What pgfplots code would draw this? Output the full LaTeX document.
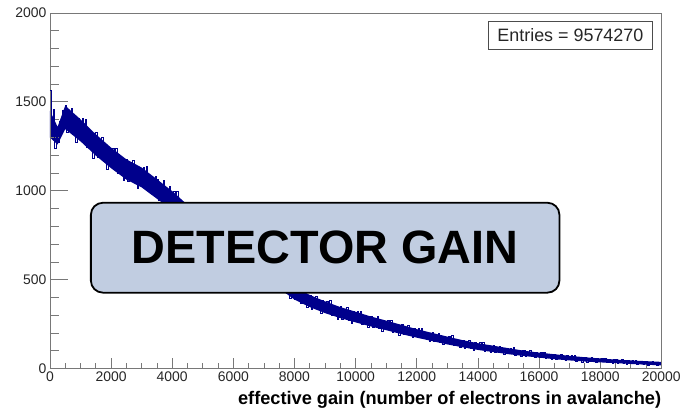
\documentclass[border=0pt]{standalone}
\usepackage{fontspec}
\setmainfont{Liberation Sans}
\usepackage{pgfplots}
\usepackage{pgfplotstable}
\usepgfplotslibrary{fillbetween}
\pgfplotsset{compat=1.18}
\definecolor{histblue}{RGB}{0,0,140}
\definecolor{boxfill}{RGB}{193,205,225}
\definecolor{framegray}{RGB}{120,120,120}

% counts per bin, bin width 50, starting at 0
\pgfplotstableread[row sep=\\]{
y\\
1565\\ 1400\\ 1460\\ 1240\\ 1330\\ 1270\\ 1390\\ 1340\\ 1450\\ 1370\\
1478\\ 1330\\ 1429\\ 1347\\ 1462\\ 1315\\ 1380\\ 1274\\ 1405\\ 1315\\
1302\\ 1408\\ 1311\\ 1402\\ 1243\\ 1333\\ 1252\\ 1295\\ 1183\\ 1297\\
1327\\ 1189\\ 1277\\ 1199\\ 1302\\ 1164\\ 1222\\ 1122\\ 1240\\ 1154\\
1136\\ 1238\\ 1153\\ 1240\\ 1097\\ 1185\\ 1114\\ 1159\\ 1059\\ 1168\\
1176\\ 1052\\ 1138\\ 1070\\ 1170\\ 1046\\ 1104\\ 1015\\ 1129\\ 1054\\
1032\\ 1131\\ 1051\\ 1137\\ 1002\\ 1088\\ 1021\\ 1066\\ 972\\ 1078\\
1062\\ 943\\ 1027\\ 962\\ 1060\\ 940\\ 998\\ 912\\ 1024\\ 952\\
902\\ 994\\ 916\\ 995\\ 863\\ 942\\ 877\\ 916\\ 824\\ 923\\
933\\ 817\\ 895\\ 830\\ 920\\ 804\\ 856\\ 772\\ 875\\ 804\\
780\\ 867\\ 793\\ 867\\ 743\\ 818\\ 756\\ 794\\ 707\\ 800\\
804\\ 698\\ 769\\ 709\\ 792\\ 686\\ 733\\ 656\\ 750\\ 685\\
648\\ 726\\ 659\\ 726\\ 613\\ 680\\ 624\\ 657\\ 578\\ 662\\
670\\ 572\\ 637\\ 582\\ 657\\ 559\\ 602\\ 531\\ 617\\ 557\\
521\\ 592\\ 530\\ 590\\ 487\\ 548\\ 496\\ 525\\ 453\\ 529\\
518\\ 432\\ 489\\ 441\\ 508\\ 421\\ 460\\ 397\\ 474\\ 421\\
390\\ 455\\ 402\\ 458\\ 367\\ 423\\ 379\\ 407\\ 344\\ 414\\
412\\ 334\\ 389\\ 345\\ 408\\ 330\\ 366\\ 310\\ 382\\ 334\\
320\\ 380\\ 330\\ 381\\ 298\\ 349\\ 308\\ 334\\ 276\\ 340\\
349\\ 278\\ 327\\ 287\\ 344\\ 273\\ 305\\ 254\\ 319\\ 275\\
268\\ 322\\ 277\\ 324\\ 249\\ 296\\ 259\\ 282\\ 230\\ 288\\
295\\ 231\\ 274\\ 240\\ 291\\ 227\\ 257\\ 211\\ 269\\ 231\\
224\\ 272\\ 232\\ 273\\ 206\\ 248\\ 214\\ 236\\ 189\\ 240\\
247\\ 190\\ 230\\ 198\\ 244\\ 188\\ 214\\ 174\\ 225\\ 191\\
181\\ 224\\ 189\\ 226\\ 167\\ 204\\ 175\\ 194\\ 153\\ 199\\
202\\ 151\\ 187\\ 158\\ 200\\ 149\\ 173\\ 136\\ 183\\ 152\\
143\\ 181\\ 150\\ 184\\ 130\\ 164\\ 137\\ 154\\ 118\\ 159\\
161\\ 116\\ 147\\ 123\\ 159\\ 114\\ 136\\ 104\\ 145\\ 118\\
110\\ 145\\ 116\\ 146\\ 99\\ 129\\ 106\\ 121\\ 89\\ 126\\
128\\ 89\\ 117\\ 95\\ 127\\ 89\\ 107\\ 79\\ 115\\ 92\\
84\\ 115\\ 91\\ 117\\ 76\\ 102\\ 82\\ 95\\ 67\\ 100\\
101\\ 68\\ 92\\ 73\\ 101\\ 68\\ 84\\ 60\\ 91\\ 71\\
65\\ 91\\ 70\\ 93\\ 58\\ 80\\ 63\\ 74\\ 50\\ 78\\
81\\ 51\\ 72\\ 55\\ 80\\ 51\\ 65\\ 44\\ 72\\ 54\\
49\\ 72\\ 54\\ 75\\ 43\\ 63\\ 48\\ 59\\ 37\\ 62\\
64\\ 37\\ 57\\ 42\\ 64\\ 38\\ 51\\ 33\\ 58\\ 41\\
38\\ 58\\ 42\\ 59\\ 33\\ 50\\ 37\\ 46\\ 28\\ 49\\
51\\ 28\\ 45\\ 32\\ 52\\ 29\\ 41\\ 24\\ 46\\ 32\\
29\\ 47\\ 33\\ 48\\ 24\\ 40\\ 29\\ 37\\ 21\\ 39\\
42\\ 20\\ 36\\ 24\\ 42\\ 22\\ 31\\ 17\\ 36\\ 24\\
24\\
}\gaindata

% dense core of the band (where bins overlap)
\pgfplotstableread{
x     up    lo
0     1450  1300
250   1360  1260
500   1479  1347
1000  1402  1278
1500  1318  1198
2000  1243  1127
2500  1177  1063
3000  1131  1019
3500  1065  955
4000  998   892
4500  921   819
5000  860   760
5500  798   702
6000  736   644
6500  664   576
7000  601   519
7500  529   451
8000  462   388
8500  414   346
9000  378   312
9500  346   284
10000 320   260
10500 293   237
11000 270   216
11500 246   194
12000 222   174
12500 201   155
13000 180   136
13500 160   120
14000 143   105
14500 129   93
15000 115   81
15500 101   71
16000 90    62
16500 81    53
17000 72    46
17500 64    40
18000 57    35
18500 51    31
19000 46    26
19500 42    22
20000 38    18
}\envdata

\pgfplotsset{
  rootframe/.style={
    at={(0,0)}, anchor=south west,
    scale only axis, width=612bp, height=356bp,
    xmin=0, xmax=20000, ymin=0, ymax=2000,
    tick align=inside, tick pos=left,
    axis line style={framegray, line width=0.8bp},
    major tick style={framegray, line width=0.8bp},
    minor tick style={framegray, line width=0.8bp},
    scaled ticks=false,
    /pgf/number format/1000 sep={},
    /pgf/number format/assume math mode=true,
    ticklabel style={font=\fontsize{14}{16}\selectfont, text=black!85},
  },
}

\begin{document}
\begin{tikzpicture}
% y axis ticks (longer in ROOT style)
\begin{axis}[rootframe,
    xtick=\empty, ytick={0,500,...,2000}, minor y tick num=4,
    major tick length=18bp, minor tick length=9bp,
]
\addplot[draw=none, forget plot] table[x=x, y=lo] {\envdata};
\end{axis}
\begin{axis}[rootframe,
    ytick=\empty, xtick={0,2000,...,20000}, minor x tick num=3,
    major tick length=11bp, minor tick length=6bp,
    xlabel={effective gain (number of electrons in avalanche)},
    xlabel style={at={(axis description cs:1,0)}, anchor=north east, inner sep=0pt,
        yshift=-23bp, font=\bfseries\fontsize{18.3}{20}\selectfont},
]
\addplot[name path=up, draw=none] table[x=x, y=up] {\envdata};
\addplot[name path=lo, draw=none] table[x=x, y=lo] {\envdata};
\addplot[histblue] fill between[of=up and lo];
\addplot[histblue, line width=0.9bp, const plot mark left]
    table[x expr=\coordindex*50, y=y] {\gaindata};
\node[draw=black!70, line width=0.8bp, fill=white, minimum width=164bp,
    minimum height=29bp, inner sep=0pt, text=black!85,
    font=\fontsize{18}{20}\selectfont] at (axis cs:17026,1874) {Entries = 9574270};
\node[draw=black, line width=1.8bp, rounded corners=12bp, fill=boxfill,
    minimum width=469bp, minimum height=90bp, inner sep=0pt,
    font=\bfseries\fontsize{47}{50}\selectfont] at (axis cs:9003,680) {DETECTOR GAIN};
\end{axis}
% page extent: margins round the axis box as in the reference
\path (-50bp,-43bp) rectangle (634bp,369bp);
\end{tikzpicture}
\end{document}
